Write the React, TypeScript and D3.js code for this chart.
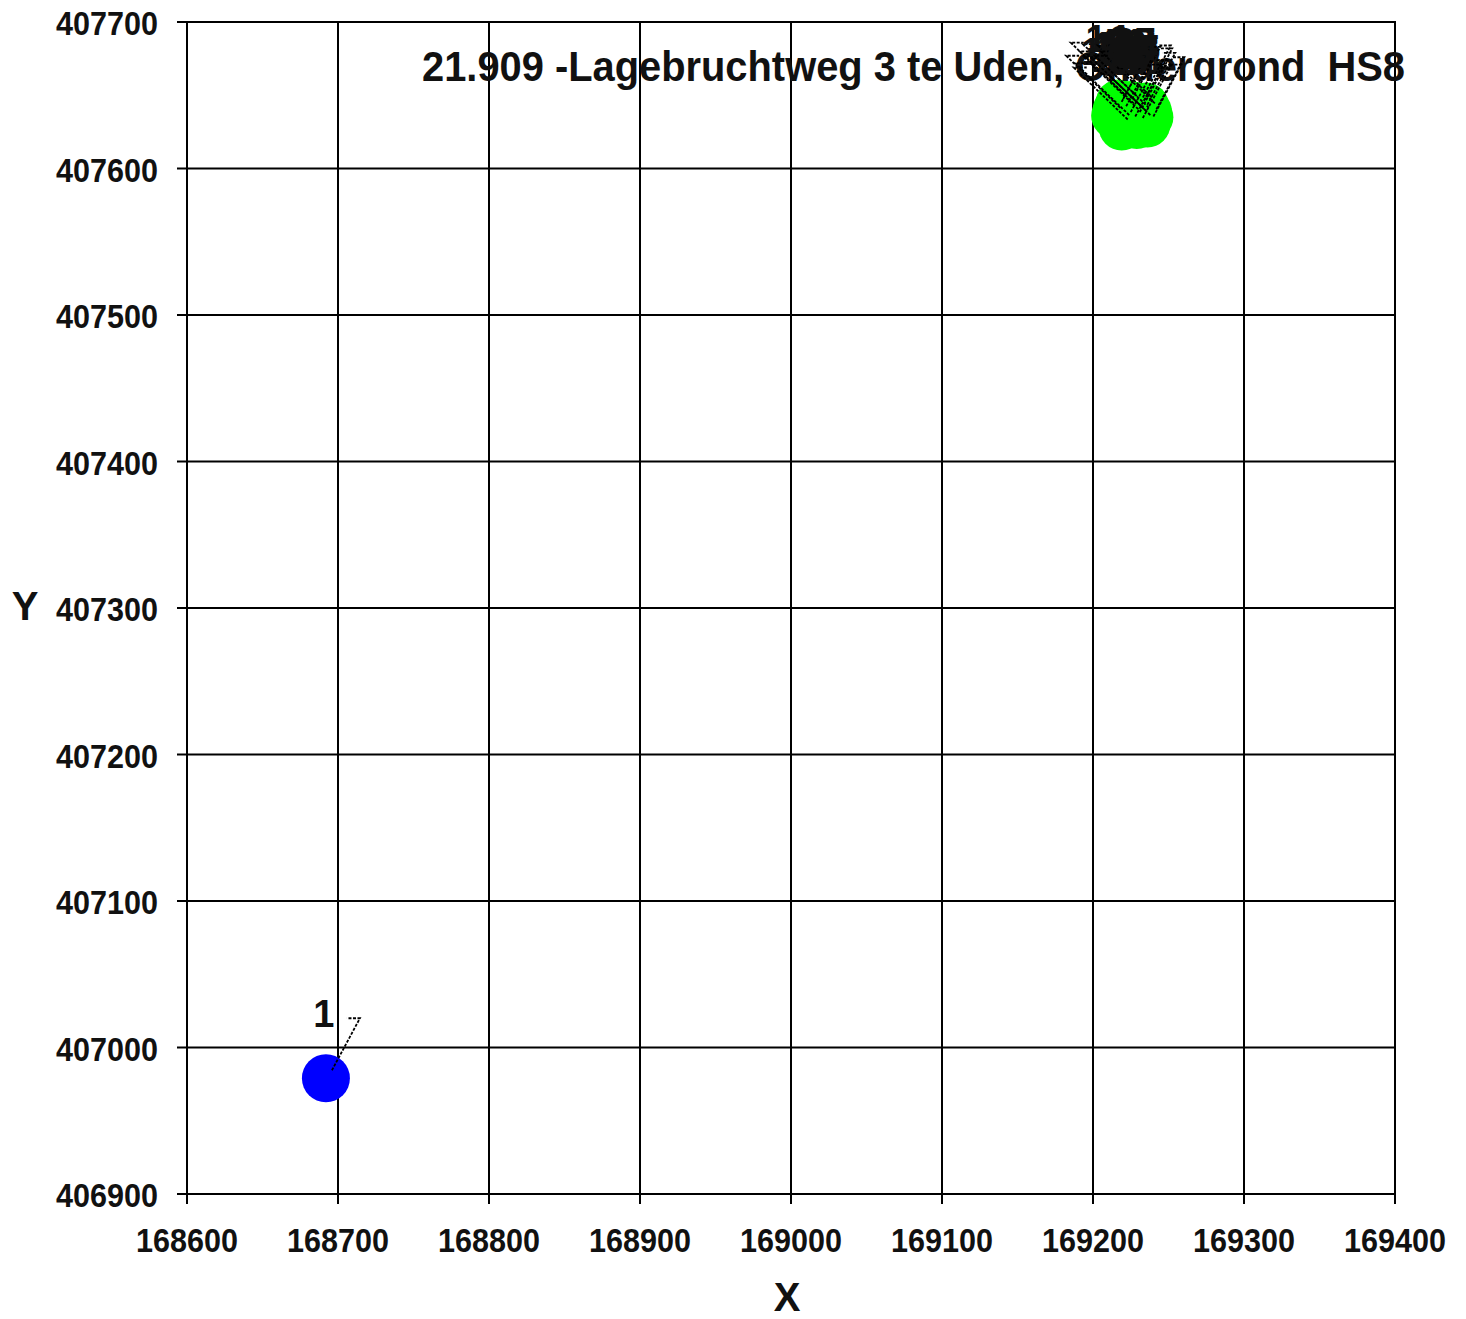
import React from "react";
import * as d3 from "d3";

const xTicks = [168600, 168700, 168800, 168900, 169000, 169100, 169200, 169300, 169400];
const yTicks = [406900, 407000, 407100, 407200, 407300, 407400, 407500, 407600, 407700];

const blueLabels = ["1"];
const blueX = [168692];
const blueY = [406979];

const greenLabels = ["2","3","4","5","6","7","8","9","10","11","12","13","14","15","16","17","18","19","20","21","22","23","24","25","26","27"];
const greenX = [169228,169221,169234,169216,169225,169238,169219,169230,169214,169236,169223,169227,169217,169232,169220,169229,169235,169215,169226,169222,169231,169218,169237,169224,169233,169229];
const greenY = [407637,407633,407631,407642,407644,407635,407628,407641,407636,407630,407639,407633,407645,407638,407631,407629,407643,407640,407635,407642,407634,407637,407639,407630,407636,407643];

const title = "21.909 -Lagebruchtweg 3 te Uden, Ondergrond  HS8";

const W = 1466, H = 1319;
const L = 187, R = 1395, T = 22, B = 1194;
const FONT = "'Liberation Sans', Arial, sans-serif";

export default function App() {
  const x = d3.scaleLinear().domain([168600, 169400]).range([L, R]);
  const y = d3.scaleLinear().domain([406900, 407700]).range([B, T]);

  const blue = blueX.map((v, i) => ({ x: v, y: blueY[i], label: blueLabels[i], dir: 1 }));
  const green = greenX.map((v, i) => ({ x: v, y: greenY[i], label: greenLabels[i], dir: i % 2 === 0 ? -1 : 1 }));

  const callout = (p: any, key: string) => {
    const px = x(p.x), py = y(p.y);
    const ax = px + p.dir * (p.dir > 0 ? 34 : 48);
    const ay = py - 60;
    const hx = ax - p.dir * 13;
    const tx = ax - p.dir * 36;
    return (
      <g key={key}>
        <polyline points={`${px + 6},${py - 8} ${ax},${ay} ${hx},${ay}`} fill="none" stroke="#000" strokeWidth={1.8} strokeDasharray="3,1.5" />
        <text x={tx} y={ay + 9} textAnchor="middle" fontFamily={FONT} fontWeight="bold" fontSize={38} fill="#111">{p.label}</text>
      </g>
    );
  };

  return (
    <svg width={W} height={H} style={{ position: "absolute", left: 0, top: 0, background: "#fff" }}>
      <rect x={0} y={0} width={W} height={H} fill="#fff" />
      {xTicks.map((t) => (
        <line key={"gx" + t} x1={x(t)} x2={x(t)} y1={T} y2={B + 10} stroke="#000" strokeWidth={2} />
      ))}
      {yTicks.map((t) => (
        <line key={"gy" + t} x1={L - 10} x2={R} y1={y(t)} y2={y(t)} stroke="#000" strokeWidth={2} />
      ))}
      <rect x={L} y={T} width={R - L} height={B - T} fill="none" stroke="#000" strokeWidth={2} />
      {yTicks.map((t) => (
        <text key={"ly" + t} x={158} y={y(t) + 13} textAnchor="end" fontFamily={FONT} fontWeight="bold" fontSize={33} textLength={102} lengthAdjust="spacingAndGlyphs" fill="#111">{t}</text>
      ))}
      {xTicks.map((t) => (
        <text key={"lx" + t} x={x(t)} y={1252} textAnchor="middle" fontFamily={FONT} fontWeight="bold" fontSize={33} textLength={102} lengthAdjust="spacingAndGlyphs" fill="#111">{t}</text>
      ))}
      <text x={25} y={620} textAnchor="middle" fontFamily={FONT} fontWeight="bold" fontSize={40} fill="#111">Y</text>
      <text x={787} y={1311} textAnchor="middle" fontFamily={FONT} fontWeight="bold" fontSize={40} fill="#111">X</text>
      {green.map((p, i) => (
        <circle key={"gc" + i} cx={x(p.x)} cy={y(p.y)} r={23} fill="#00ff00" />
      ))}
      {blue.map((p, i) => (
        <circle key={"bc" + i} cx={x(p.x)} cy={y(p.y)} r={24} fill="#0000ff" />
      ))}
      <text x={422} y={81} fontFamily={FONT} fontWeight="bold" fontSize={43} textLength={983} lengthAdjust="spacingAndGlyphs" fill="#111" style={{ whiteSpace: "pre" }}>{title}</text>
      {blue.map((p, i) => callout(p, "b" + i))}
      {green.map((p, i) => callout(p, "g" + i))}
    </svg>
  );
}
